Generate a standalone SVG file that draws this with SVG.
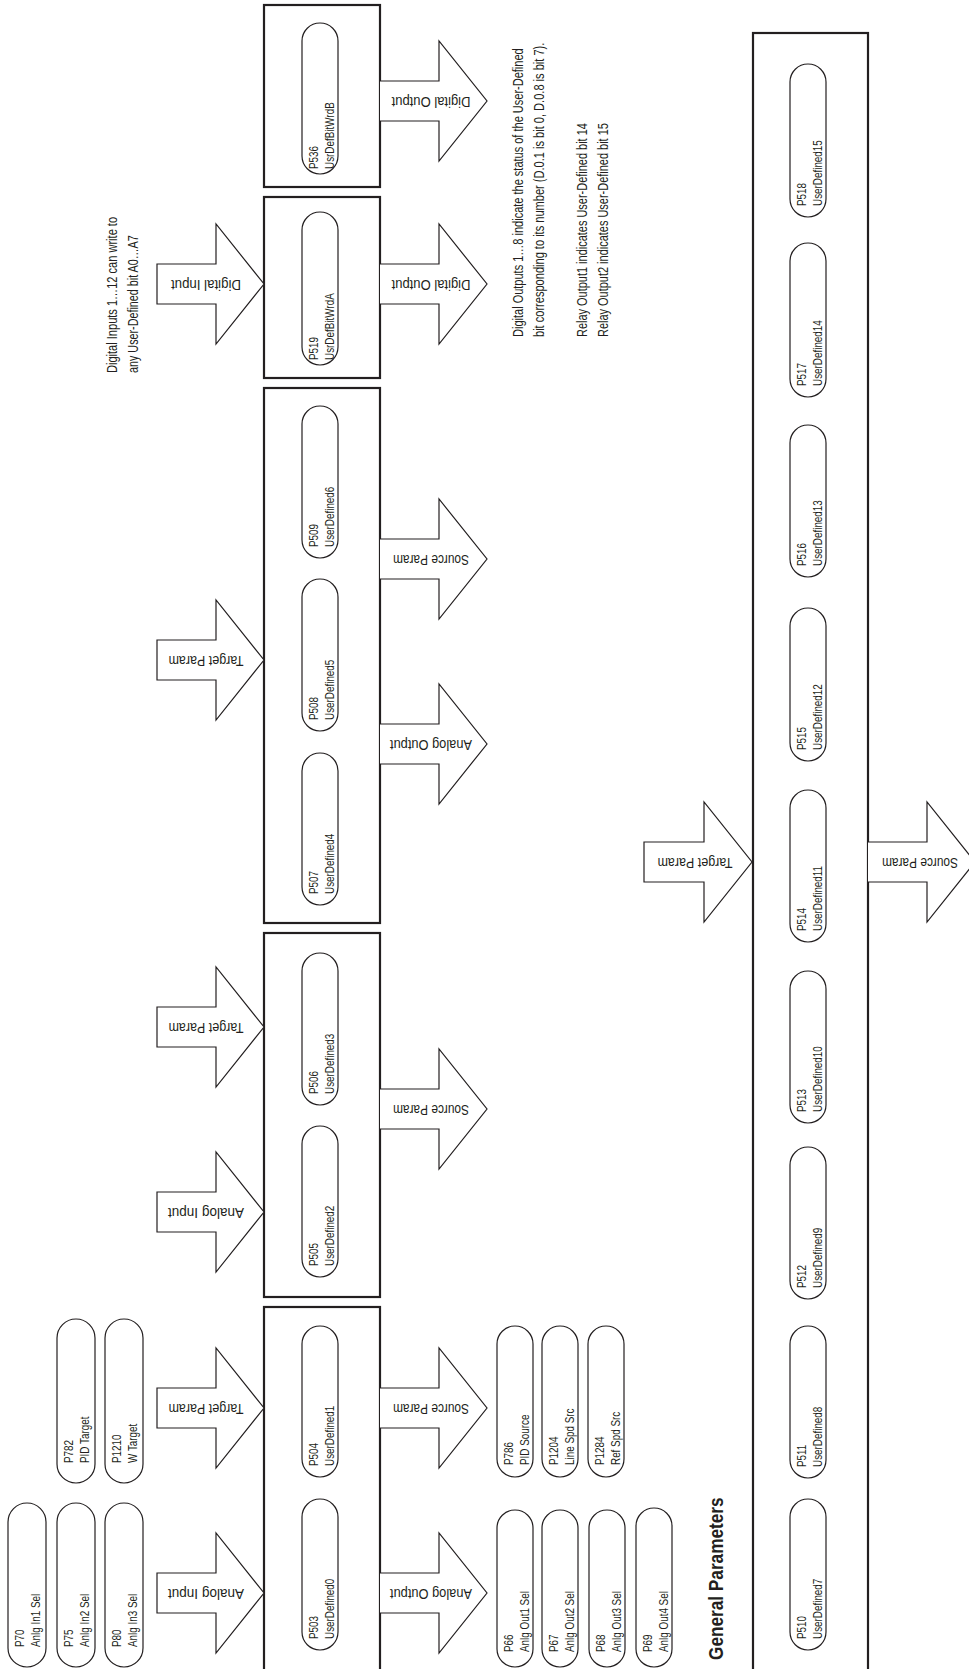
<svg xmlns="http://www.w3.org/2000/svg" width="969" height="1669" viewBox="0 0 969 1669">
<style>
.box{fill:none;stroke:#231f20;stroke-width:2.2}
.pill{fill:#fff;stroke:#231f20;stroke-width:1.2}
.arr{fill:#fff;stroke:#231f20;stroke-width:1.2;stroke-linejoin:miter}
text{font-family:"Liberation Sans",Arial,sans-serif;fill:#231f20}
.pt{font-size:13px}
.al{font-size:14px;text-anchor:middle}
.nt{font-size:14px}
.ttl{font-size:21px;font-weight:bold}
</style>
<rect width="969" height="1669" fill="#fff"/>

<!-- containers -->
<g id="box-p536"><rect class="box" x="264" y="5" width="116" height="182"/></g>
<g id="box-p519"><rect class="box" x="264" y="197" width="116" height="181"/></g>
<g id="box-p507-509"><rect class="box" x="264" y="388" width="116" height="535"/></g>
<g id="box-p505-506"><rect class="box" x="264" y="933" width="116" height="364"/></g>
<g id="box-p503-504"><rect class="box" x="264" y="1307" width="116" height="380"/></g>
<g id="box-general"><rect class="box" x="753" y="33" width="115" height="1660"/></g>

<!-- connectors (block arrows) -->
<g id="connectors">
<path class="arr" d="M157,264 H216 V224 L264,284 L216,344 V304 H157 Z"/>
<text class="al" transform="translate(206,284) rotate(180)" x="0" y="4" textLength="70" lengthAdjust="spacingAndGlyphs">Digital Input</text>
<path class="arr" d="M157,640 H216 V600 L264,660 L216,720 V680 H157 Z"/>
<text class="al" transform="translate(206,660) rotate(180)" x="0" y="4" textLength="75" lengthAdjust="spacingAndGlyphs">Target Param</text>
<path class="arr" d="M157,1007 H216 V967 L264,1027 L216,1087 V1047 H157 Z"/>
<text class="al" transform="translate(206,1027) rotate(180)" x="0" y="4" textLength="75" lengthAdjust="spacingAndGlyphs">Target Param</text>
<path class="arr" d="M157,1192 H216 V1152 L264,1212 L216,1272 V1232 H157 Z"/>
<text class="al" transform="translate(206,1212) rotate(180)" x="0" y="4" textLength="76" lengthAdjust="spacingAndGlyphs">Analog Input</text>
<path class="arr" d="M157,1388 H216 V1348 L264,1408 L216,1468 V1428 H157 Z"/>
<text class="al" transform="translate(206,1408) rotate(180)" x="0" y="4" textLength="75" lengthAdjust="spacingAndGlyphs">Target Param</text>
<path class="arr" d="M157,1573 H216 V1533 L264,1593 L216,1653 V1613 H157 Z"/>
<text class="al" transform="translate(206,1593) rotate(180)" x="0" y="4" textLength="76" lengthAdjust="spacingAndGlyphs">Analog Input</text>

<path class="arr" d="M380,81 H439 V41 L487,101 L439,161 V121 H380"/>
<text class="al" transform="translate(431,101) rotate(180)" x="0" y="4" textLength="79" lengthAdjust="spacingAndGlyphs">Digital Output</text>
<path class="arr" d="M380,264 H439 V224 L487,284 L439,344 V304 H380"/>
<text class="al" transform="translate(431,284) rotate(180)" x="0" y="4" textLength="79" lengthAdjust="spacingAndGlyphs">Digital Output</text>
<path class="arr" d="M380,539 H439 V499 L487,559 L439,619 V579 H380"/>
<text class="al" transform="translate(431,559) rotate(180)" x="0" y="4" textLength="76" lengthAdjust="spacingAndGlyphs">Source Param</text>
<path class="arr" d="M380,724 H439 V684 L487,744 L439,804 V764 H380"/>
<text class="al" transform="translate(431,744) rotate(180)" x="0" y="4" textLength="82" lengthAdjust="spacingAndGlyphs">Analog Output</text>
<path class="arr" d="M380,1089 H439 V1049 L487,1109 L439,1169 V1129 H380"/>
<text class="al" transform="translate(431,1109) rotate(180)" x="0" y="4" textLength="76" lengthAdjust="spacingAndGlyphs">Source Param</text>
<path class="arr" d="M380,1388 H439 V1348 L487,1408 L439,1468 V1428 H380"/>
<text class="al" transform="translate(431,1408) rotate(180)" x="0" y="4" textLength="76" lengthAdjust="spacingAndGlyphs">Source Param</text>
<path class="arr" d="M380,1573 H439 V1533 L487,1593 L439,1653 V1613 H380"/>
<text class="al" transform="translate(431,1593) rotate(180)" x="0" y="4" textLength="82" lengthAdjust="spacingAndGlyphs">Analog Output</text>

<path class="arr" d="M644,842 H704 V802 L752,862 L704,922 V882 H644 Z"/>
<text class="al" transform="translate(695,862) rotate(180)" x="0" y="4" textLength="75" lengthAdjust="spacingAndGlyphs">Target Param</text>
<path class="arr" d="M868,842 H927 V802 L975,862 L927,922 V882 H868"/>
<text class="al" transform="translate(920,862) rotate(180)" x="0" y="4" textLength="76" lengthAdjust="spacingAndGlyphs">Source Param</text>
</g>

<!-- pills in boxes -->
<g id="p536"><rect class="pill" x="302" y="23" width="36" height="151" rx="18"/><text class="pt" transform="translate(318,169) rotate(-90) scale(0.76,1)"><tspan x="0" y="0">P536</tspan><tspan x="0" y="16">UsrDefBitWrdB</tspan></text></g>
<g id="p519"><rect class="pill" x="302" y="212" width="36" height="153" rx="18"/><text class="pt" transform="translate(318,360) rotate(-90) scale(0.76,1)"><tspan x="0" y="0">P519</tspan><tspan x="0" y="16">UsrDefBitWrdA</tspan></text></g>
<g id="p509"><rect class="pill" x="302" y="406" width="36" height="152" rx="18"/><text class="pt" transform="translate(318,547) rotate(-90) scale(0.76,1)"><tspan x="0" y="0">P509</tspan><tspan x="0" y="16">UserDefined6</tspan></text></g>
<g id="p508"><rect class="pill" x="302" y="579" width="36" height="152" rx="18"/><text class="pt" transform="translate(318,720) rotate(-90) scale(0.76,1)"><tspan x="0" y="0">P508</tspan><tspan x="0" y="16">UserDefined5</tspan></text></g>
<g id="p507"><rect class="pill" x="302" y="753" width="36" height="152" rx="18"/><text class="pt" transform="translate(318,894) rotate(-90) scale(0.76,1)"><tspan x="0" y="0">P507</tspan><tspan x="0" y="16">UserDefined4</tspan></text></g>
<g id="p506"><rect class="pill" x="302" y="953" width="36" height="152" rx="18"/><text class="pt" transform="translate(318,1094) rotate(-90) scale(0.76,1)"><tspan x="0" y="0">P506</tspan><tspan x="0" y="16">UserDefined3</tspan></text></g>
<g id="p505"><rect class="pill" x="302" y="1126" width="36" height="151" rx="18"/><text class="pt" transform="translate(318,1266) rotate(-90) scale(0.76,1)"><tspan x="0" y="0">P505</tspan><tspan x="0" y="16">UserDefined2</tspan></text></g>
<g id="p504"><rect class="pill" x="302" y="1326" width="36" height="151" rx="18"/><text class="pt" transform="translate(318,1466) rotate(-90) scale(0.76,1)"><tspan x="0" y="0">P504</tspan><tspan x="0" y="16">UserDefined1</tspan></text></g>
<g id="p503"><rect class="pill" x="302" y="1499" width="36" height="151" rx="18"/><text class="pt" transform="translate(318,1639) rotate(-90) scale(0.76,1)"><tspan x="0" y="0">P503</tspan><tspan x="0" y="16">UserDefined0</tspan></text></g>

<!-- general parameters pills -->
<g id="p518"><rect class="pill" x="790" y="64" width="36" height="153" rx="18"/><text class="pt" transform="translate(806,206) rotate(-90) scale(0.76,1)"><tspan x="0" y="0">P518</tspan><tspan x="0" y="16">UserDefined15</tspan></text></g>
<g id="p517"><rect class="pill" x="790" y="243" width="36" height="154" rx="18"/><text class="pt" transform="translate(806,386) rotate(-90) scale(0.76,1)"><tspan x="0" y="0">P517</tspan><tspan x="0" y="16">UserDefined14</tspan></text></g>
<g id="p516"><rect class="pill" x="790" y="425" width="36" height="152" rx="18"/><text class="pt" transform="translate(806,566) rotate(-90) scale(0.76,1)"><tspan x="0" y="0">P516</tspan><tspan x="0" y="16">UserDefined13</tspan></text></g>
<g id="p515"><rect class="pill" x="790" y="608" width="36" height="153" rx="18"/><text class="pt" transform="translate(806,750) rotate(-90) scale(0.76,1)"><tspan x="0" y="0">P515</tspan><tspan x="0" y="16">UserDefined12</tspan></text></g>
<g id="p514"><rect class="pill" x="790" y="790" width="36" height="152" rx="18"/><text class="pt" transform="translate(806,931) rotate(-90) scale(0.76,1)"><tspan x="0" y="0">P514</tspan><tspan x="0" y="16">UserDefined11</tspan></text></g>
<g id="p513"><rect class="pill" x="790" y="971" width="36" height="152" rx="18"/><text class="pt" transform="translate(806,1112) rotate(-90) scale(0.76,1)"><tspan x="0" y="0">P513</tspan><tspan x="0" y="16">UserDefined10</tspan></text></g>
<g id="p512"><rect class="pill" x="790" y="1147" width="36" height="152" rx="18"/><text class="pt" transform="translate(806,1288) rotate(-90) scale(0.76,1)"><tspan x="0" y="0">P512</tspan><tspan x="0" y="16">UserDefined9</tspan></text></g>
<g id="p511"><rect class="pill" x="790" y="1326" width="36" height="152" rx="18"/><text class="pt" transform="translate(806,1467) rotate(-90) scale(0.76,1)"><tspan x="0" y="0">P511</tspan><tspan x="0" y="16">UserDefined8</tspan></text></g>
<g id="p510"><rect class="pill" x="790" y="1499" width="36" height="151" rx="18"/><text class="pt" transform="translate(806,1639) rotate(-90) scale(0.76,1)"><tspan x="0" y="0">P510</tspan><tspan x="0" y="16">UserDefined7</tspan></text></g>

<!-- left pills -->
<g id="p70"><rect class="pill" x="8" y="1503" width="38" height="164" rx="19"/><text class="pt" transform="translate(24,1647) rotate(-90) scale(0.76,1)"><tspan x="0" y="0">P70</tspan><tspan x="0" y="16">Anlg In1 Sel</tspan></text></g>
<g id="p75"><rect class="pill" x="57" y="1503" width="38" height="164" rx="19"/><text class="pt" transform="translate(73,1647) rotate(-90) scale(0.76,1)"><tspan x="0" y="0">P75</tspan><tspan x="0" y="16">Anlg In2 Sel</tspan></text></g>
<g id="p80"><rect class="pill" x="105" y="1503" width="38" height="164" rx="19"/><text class="pt" transform="translate(121,1647) rotate(-90) scale(0.76,1)"><tspan x="0" y="0">P80</tspan><tspan x="0" y="16">Anlg In3 Sel</tspan></text></g>
<g id="p782"><rect class="pill" x="57" y="1319" width="38" height="164" rx="19"/><text class="pt" transform="translate(73,1463) rotate(-90) scale(0.76,1)"><tspan x="0" y="0">P782</tspan><tspan x="0" y="16">PID Target</tspan></text></g>
<g id="p1210"><rect class="pill" x="105" y="1319" width="38" height="164" rx="19"/><text class="pt" transform="translate(121,1463) rotate(-90) scale(0.76,1)"><tspan x="0" y="0">P1210</tspan><tspan x="0" y="16">W Target</tspan></text></g>

<!-- right pills -->
<g id="p786"><rect class="pill" x="497" y="1326" width="36" height="151" rx="18"/><text class="pt" transform="translate(513,1465) rotate(-90) scale(0.76,1)"><tspan x="0" y="0">P786</tspan><tspan x="0" y="16">PID Source</tspan></text></g>
<g id="p1204"><rect class="pill" x="542" y="1326" width="36" height="151" rx="18"/><text class="pt" transform="translate(558,1465) rotate(-90) scale(0.76,1)"><tspan x="0" y="0">P1204</tspan><tspan x="0" y="16">Line Spd Src</tspan></text></g>
<g id="p1284"><rect class="pill" x="588" y="1326" width="36" height="151" rx="18"/><text class="pt" transform="translate(604,1465) rotate(-90) scale(0.76,1)"><tspan x="0" y="0">P1284</tspan><tspan x="0" y="16">Ref Spd Src</tspan></text></g>
<g id="p66"><rect class="pill" x="497" y="1510" width="36" height="157" rx="18"/><text class="pt" transform="translate(513,1652) rotate(-90) scale(0.76,1)"><tspan x="0" y="0">P66</tspan><tspan x="0" y="16">Anlg Out1 Sel</tspan></text></g>
<g id="p67"><rect class="pill" x="542" y="1510" width="36" height="157" rx="18"/><text class="pt" transform="translate(558,1652) rotate(-90) scale(0.76,1)"><tspan x="0" y="0">P67</tspan><tspan x="0" y="16">Anlg Out2 Sel</tspan></text></g>
<g id="p68"><rect class="pill" x="589" y="1510" width="36" height="157" rx="18"/><text class="pt" transform="translate(605,1652) rotate(-90) scale(0.76,1)"><tspan x="0" y="0">P68</tspan><tspan x="0" y="16">Anlg Out3 Sel</tspan></text></g>
<g id="p69"><rect class="pill" x="636" y="1508" width="36" height="159" rx="18"/><text class="pt" transform="translate(652,1652) rotate(-90) scale(0.76,1)"><tspan x="0" y="0">P69</tspan><tspan x="0" y="16">Anlg Out4 Sel</tspan></text></g>

<!-- notes -->
<g id="notes">
<text class="nt" transform="translate(117,373) rotate(-90) scale(0.79,1)">Digital Inputs 1…12 can write to</text>
<text class="nt" transform="translate(138,373) rotate(-90) scale(0.77,1)">any User-Defined bit A0…A7</text>
<text class="nt" transform="translate(523,337) rotate(-90) scale(0.787,1)">Digital Outputs 1…8 indicate the status of the User-Defined</text>
<text class="nt" transform="translate(544,337) rotate(-90) scale(0.79,1)">bit corresponding to its number (D.0.1 is bit 0, D.0.8 is bit 7).</text>
<text class="nt" transform="translate(587,337) rotate(-90) scale(0.784,1)">Relay Output1 indicates User-Defined bit 14</text>
<text class="nt" transform="translate(608,337) rotate(-90) scale(0.784,1)">Relay Output2 indicates User-Defined bit 15</text>
<text class="ttl" transform="translate(723,1660) rotate(-90) scale(0.82,1)">General Parameters</text>
</g>
</svg>
